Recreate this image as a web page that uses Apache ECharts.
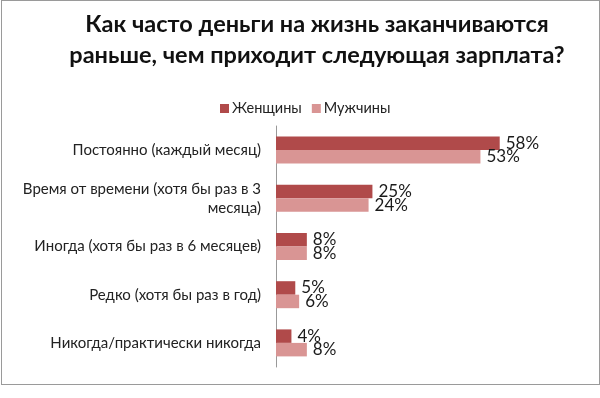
<!DOCTYPE html>
<html><head><meta charset="utf-8">
<script src="https://cdn.jsdelivr.net/npm/echarts@6/dist/echarts.min.js"></script>
<style>html,body{margin:0;padding:0;background:#fff}#c{width:600px;height:398px}
#frame{position:absolute;left:1px;top:0px;width:597px;height:383px;border:1px solid #9a9a9a;pointer-events:none}</style>
</head><body><div id="c"></div><div id="frame"></div>
<script>
const categories = ["Постоянно (каждый месяц)", "Время от времени (хотя бы раз в 3\nмесяца)", "Иногда (хотя бы раз в 6 месяцев)", "Редко (хотя бы раз в год)", "Никогда/практически никогда"];
const women = [58, 25, 8, 5, 4];
const men = [53, 24, 8, 6, 8];
const seriesNames = ["Женщины", "Мужчины"];
const titleText = "Как часто деньги на жизнь заканчиваются\nраньше, чем приходит следующая зарплата?";

const chart = echarts.init(document.getElementById('c'));
const font = "Lato, 'Open Sans', sans-serif";
const lbl = {show: true, position: 'right', distance: 6, formatter: '{c}%', color: '#1a1a1a', fontSize: 17, fontFamily: font};
chart.setOption({
  animation: false,
  title: {text: titleText, left: 312, textAlign: 'center', top: 4,
    textStyle: {fontFamily: font, fontWeight: 'bold', fontSize: 23.5, color: '#111', lineHeight: 31}},
  legend: {data: seriesNames, top: 96, left: 215, itemWidth: 9, itemHeight: 9, itemGap: 10,
    icon: 'rect', textStyle: {fontFamily: font, fontSize: 14.5, color: '#222', padding: [0,0,0,-2]}},
  grid: {left: 276, right: 54, top: 126, bottom: 31},
  xAxis: {type: 'value', min: 0, max: 70, show: false},
  yAxis: {type: 'category', data: categories, inverse: true,
    axisLine: {show: true, lineStyle: {color: '#999', width: 1}}, axisTick: {show: false},
    axisLabel: {fontFamily: font, fontSize: 15, color: '#222', margin: 15, lineHeight: 19, align: 'right'}},
  series: [
    {name: seriesNames[0], type: 'bar', data: women, barGap: '0%', barCategoryGap: '44%',
      itemStyle: {color: '#B04A4A'}, label: lbl},
    {name: seriesNames[1], type: 'bar', data: men, barGap: '0%', barCategoryGap: '44%',
      itemStyle: {color: '#D99594'}, label: lbl}
  ]
});
</script></body></html>
